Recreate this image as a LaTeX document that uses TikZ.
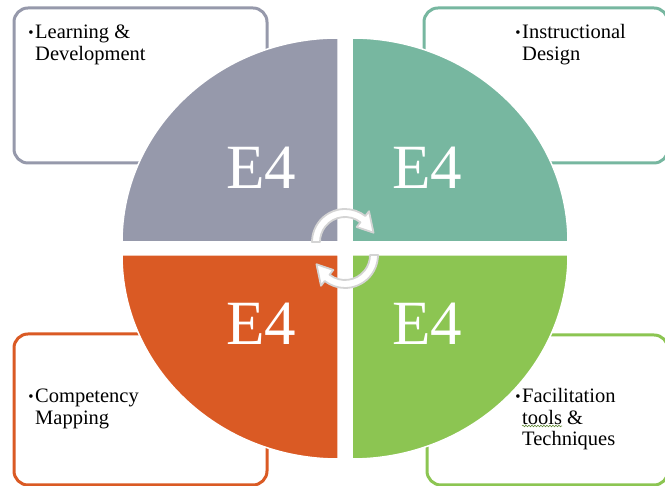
\documentclass[tikz,border=0pt]{standalone}
\usepackage{fontspec}
\setmainfont{Liberation Serif}
\usetikzlibrary{decorations.pathmorphing}
\definecolor{qgray}{HTML}{9699AB}
\definecolor{qteal}{HTML}{77B7A0}
\definecolor{qorange}{HTML}{DA5A24}
\definecolor{qgreen}{HTML}{8CC552}
\definecolor{cycline}{HTML}{D4D4D4}
\newcommand{\bul}{\llap{\raisebox{1.5pt}{\fontsize{15}{15}\selectfont\textbullet}\hspace{1.5pt}}}

\begin{document}
\begin{tikzpicture}[x=1pt, y=1pt,
    box/.style={draw=#1, line width=3pt, rounded corners=14pt, fill=white},
    quad/.style={fill=#1, draw=white, line width=1.5pt},
    big/.style={text=white, inner sep=0pt, font=\fontsize{63}{63}\selectfont},
    txt/.style={anchor=base west, align=left, inner sep=0pt, font=\fontsize{20.5}{21.5}\selectfont},
    cyc/.style={fill=white, draw=cycline, line width=1.8pt, line join=round}]
    \useasboundingbox (0,0) rectangle (665,486);

    % outline boxes
    \draw[box=qgray] (14,323) rectangle (267,478);
    \draw[box=qteal] (424,323) rectangle (668,478);
    \draw[box=qorange] (14,1) rectangle (267,152);
    \draw[box=qgreen] (427,1) rectangle (668,151);

    % the four quarters
    \path[quad=qgray] (338,244) -- ++(-216,0)
      arc[start angle=180, end angle=90, x radius=216, y radius=204] -- cycle;
    \path[quad=qteal] (352,244) -- ++(216,0)
      arc[start angle=0, end angle=90, x radius=216, y radius=204] -- cycle;
    \path[quad=qorange] (338,231) -- ++(-216,0)
      arc[start angle=180, end angle=270, x radius=216, y radius=204] -- cycle;
    \path[quad=qgreen] (352,231) -- ++(216,0)
      arc[start angle=0, end angle=-90, x radius=216, y radius=204] -- cycle;

    \node[big] (e1) at (261,318) {E4};
    \node[big] (e2) at (427,318) {E4};
    \node[big] (e3) at (261,162) {E4};
    \node[big] (e4) at (427,162) {E4};

    % circular arrows
    \begin{scope}[shift={(345,244)}]
      \draw[cyc] (180:33) arc[start angle=180, end angle=52, radius=33]
        -- (52:39) -- (18:30) -- (52:19) -- (52:25)
        arc[start angle=52, end angle=180, radius=25] -- cycle;
    \end{scope}
    \begin{scope}[shift={(345,231)}, rotate=180]
      \draw[cyc] (180:33) arc[start angle=180, end angle=52, radius=33]
        -- (52:39) -- (18:30) -- (52:19) -- (52:25)
        arc[start angle=52, end angle=180, radius=25] -- cycle;
    \end{scope}

    % texts (anchored at the baseline of their last line)
    \node[txt] (t1) at (35,425.5) {\bul Learning \&\\Development};
    \node[txt] (t2) at (522,425.5) {\bul Instructional\\Design};
    \node[txt] (t3) at (35,61.5) {\bul Competency\\Mapping};
    \node[txt] (t4) at (522,40) {\bul Facilitation\\tools \&\\Techniques};

    \draw[qgreen!70!black, line width=0.6pt, decorate,
      decoration={snake, amplitude=0.8pt, segment length=3pt}] (522,60) -- (562,60);
\end{tikzpicture}
\end{document}
